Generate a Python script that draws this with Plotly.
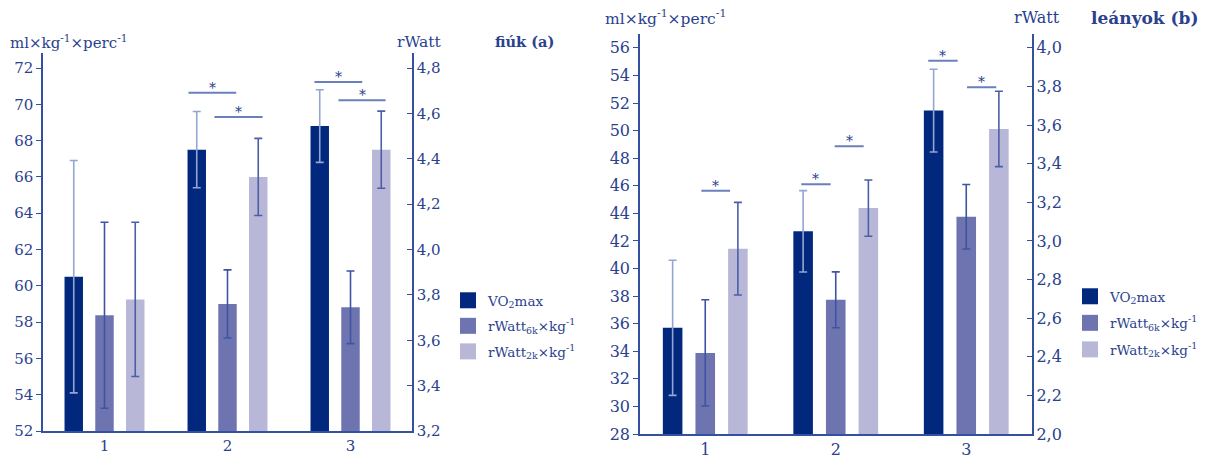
import plotly.graph_objects as go

categories = ["1", "2", "3"]

# fiúk (a)
vo2_boys = [60.5, 67.5, 68.8]
vo2_boys_sd = [6.4, 2.1, 2.0]
rw6k_boys = [3.71, 3.76, 3.745]
rw6k_boys_sd = [0.41, 0.15, 0.16]
rw2k_boys = [3.78, 4.32, 4.44]
rw2k_boys_sd = [0.34, 0.17, 0.17]

# leányok (b)
vo2_girls = [35.7, 42.7, 51.45]
vo2_girls_sd = [4.9, 2.95, 3.0]
rw6k_girls = [2.42, 2.695, 3.125]
rw6k_girls_sd = [0.275, 0.145, 0.167]
rw2k_girls = [2.96, 3.17, 3.58]
rw2k_girls_sd = [0.24, 0.146, 0.195]

# significance brackets: (group index, start offset, end offset, level on left axis)
sig_boys = [(1, -0.317, 0.071, 70.64), (1, -0.106, 0.285, 69.3),
            (2, -0.293, 0.095, 71.23), (2, -0.098, 0.285, 70.22)]
sig_girls = [(0, -0.03, 0.19, 45.64), (1, -0.264, -0.039, 46.11), (1, -0.008, 0.214, 48.86),
             (2, -0.291, -0.066, 55.07), (2, 0.006, 0.23, 53.14)]

left_ticks_boys = list(range(52, 73, 2))
right_ticks_boys = [3.2, 3.4, 3.6, 3.8, 4.0, 4.2, 4.4, 4.6, 4.8]
left_ticks_girls = list(range(28, 57, 2))
right_ticks_girls = [2.0, 2.2, 2.4, 2.6, 2.8, 3.0, 3.2, 3.4, 3.6, 3.8, 4.0]

C_DARK = "#02287d"
C_MID = "#6e74b0"
C_LIGHT = "#b8b7d8"
C_TEXT = "#2a418e"
C_AXIS = "#3450a0"
C_SIG = "#6a80bb"
FONT = "DejaVu Serif"

W, H = 1208, 458
xpos = list(range(len(categories)))

names = ["VO<sub>2</sub>max", "rWatt<sub>6k</sub>×kg<sup>-1</sup>", "rWatt<sub>2k</sub>×kg<sup>-1</sup>"]
colors = [C_DARK, C_MID, C_LIGHT]
err_colors = ["#93a5d3", "#3e54a0", "#4a5fa8"]
offsets = [-0.325, -0.075, 0.175]
BW = 0.15

fig = go.Figure()


def add_chart(series, sds, xa, ya_left, ya_right, legend, tag):
    for i, (vals, sd) in enumerate(zip(series, sds)):
        fig.add_trace(go.Bar(
            x=xpos, y=vals, name=names[i], marker_color=colors[i], marker_line_width=0,
            width=BW, offset=offsets[i], showlegend=False,
            error_y=dict(type="data", array=sd, color=err_colors[i], thickness=1.6, width=4),
            xaxis=xa, yaxis=ya_left if i == 0 else ya_right,
        ))
    # legend entries with larger square swatches
    for i in range(3):
        fig.add_trace(go.Scatter(
            x=[None], y=[None], mode="markers", name=names[i],
            marker=dict(symbol="square", size=16, color=colors[i]),
            xaxis=xa, yaxis=ya_left, legend=legend, showlegend=True,
            legendgroup=f"{tag}{i}",
        ))


add_chart([vo2_boys, rw6k_boys, rw2k_boys], [vo2_boys_sd, rw6k_boys_sd, rw2k_boys_sd],
          "x", "y", "y2", "legend", "b")
add_chart([vo2_girls, rw6k_girls, rw2k_girls], [vo2_girls_sd, rw6k_girls_sd, rw2k_girls_sd],
          "x2", "y3", "y4", "legend2", "g")

annotations = []


def add_sig(sigs, xa, ya, size):
    for g, a, b, lvl in sigs:
        fig.add_trace(go.Scatter(x=[g + a, g + b], y=[lvl, lvl], mode="lines",
                                 line=dict(color=C_SIG, width=2), showlegend=False,
                                 hoverinfo="skip", xaxis=xa, yaxis=ya))
        annotations.append(dict(x=g + (a + b) / 2, y=lvl, xref=xa, yref=ya, text="*",
                                showarrow=False, yanchor="bottom", yshift=-5,
                                font=dict(family=FONT, size=size, color=C_TEXT)))


add_sig(sig_boys, "x", "y", 14)
add_sig(sig_girls, "x2", "y3", 14)


def px_x(p):
    return p / W


def px_y(p):
    return (H - p) / H


# pixel layout
b_left, b_right, b_bottom = 43, 412, 431
b_ppu = 18.15
b_top_val = 72.8
b_top = b_bottom - (b_top_val - 52) * b_ppu
g_left, g_right, g_bottom = 640, 1031.5, 434
g_ppu = 13.79
g_top_val = 57.0
g_top = g_bottom - (g_top_val - 28) * g_ppu

tickfont_b = dict(family=FONT, size=15, color=C_TEXT)
tickfont_g = dict(family=FONT, size=16, color=C_TEXT)


def ystyle(tf):
    return dict(showgrid=False, zeroline=False, showline=True, linecolor=C_AXIS, linewidth=1.5,
                ticklen=5, tickcolor=C_AXIS, tickwidth=1.2, tickfont=tf)


def xstyle(tf):
    return dict(showgrid=False, zeroline=False, showline=True, linecolor=C_AXIS, linewidth=1.8,
                ticks="", tickfont=tf, range=[-0.5, 2.5], tickvals=xpos, ticktext=categories)


def comma(v):
    return f"{v:.1f}".replace(".", ",")


legend_font = dict(family=FONT, size=13.5, color=C_TEXT)

fig.update_layout(
    width=W, height=H, margin=dict(l=0, r=0, t=0, b=0, autoexpand=False),
    paper_bgcolor="white", plot_bgcolor="white",
    barmode="overlay", showlegend=True, hovermode=False,
    xaxis=dict(domain=[px_x(b_left), px_x(b_right)], anchor="y", **xstyle(tickfont_b)),
    yaxis=dict(domain=[px_y(b_bottom), px_y(b_top)], anchor="x", range=[52, b_top_val],
               tickvals=left_ticks_boys, ticks="outside", **ystyle(tickfont_b)),
    yaxis2=dict(overlaying="y", side="right", anchor="x",
                range=[3.2, 3.2 + (b_top_val - 52) * 0.08],
                tickvals=right_ticks_boys, ticktext=[comma(v) for v in right_ticks_boys],
                ticks="inside", **ystyle(tickfont_b)),
    xaxis2=dict(domain=[px_x(g_left), px_x(g_right)], anchor="y3", **xstyle(tickfont_g)),
    yaxis3=dict(domain=[px_y(g_bottom), px_y(g_top)], anchor="x2", range=[28, g_top_val],
                tickvals=left_ticks_girls, ticks="outside", **ystyle(tickfont_g)),
    yaxis4=dict(overlaying="y3", side="right", anchor="x2",
                range=[2.0, 2.0 + (g_top_val - 28) / 14.0],
                tickvals=right_ticks_girls, ticktext=[comma(v) for v in right_ticks_girls],
                ticks="inside", **ystyle(tickfont_g)),
    legend=dict(x=px_x(448), y=px_y(285), xanchor="left", yanchor="top",
                font=legend_font, bgcolor="rgba(0,0,0,0)",
                tracegroupgap=5, itemclick=False, itemwidth=30),
    legend2=dict(x=px_x(1070), y=px_y(281), xanchor="left", yanchor="top",
                 font=legend_font, bgcolor="rgba(0,0,0,0)",
                 tracegroupgap=6, itemclick=False, itemwidth=30),
)

annotations += [
    dict(x=px_x(8), y=px_y(42), xref="paper", yref="paper", xanchor="left", yanchor="middle",
         text="ml×kg<sup>-1</sup>×perc<sup>-1</sup>", showarrow=False,
         font=dict(family=FONT, size=15, color=C_TEXT)),
    dict(x=px_x(395), y=px_y(42), xref="paper", yref="paper", xanchor="left", yanchor="middle",
         text="rWatt", showarrow=False, font=dict(family=FONT, size=15.5, color=C_TEXT)),
    dict(x=px_x(493), y=px_y(42), xref="paper", yref="paper", xanchor="left", yanchor="middle",
         text="<b>fiúk (a)</b>", showarrow=False, font=dict(family=FONT, size=14.5, color=C_TEXT)),
    dict(x=px_x(603), y=px_y(18), xref="paper", yref="paper", xanchor="left", yanchor="middle",
         text="ml×kg<sup>-1</sup>×perc<sup>-1</sup>", showarrow=False,
         font=dict(family=FONT, size=15.5, color=C_TEXT)),
    dict(x=px_x(1012), y=px_y(18), xref="paper", yref="paper", xanchor="left", yanchor="middle",
         text="rWatt", showarrow=False, font=dict(family=FONT, size=16, color=C_TEXT)),
    dict(x=px_x(1089), y=px_y(18), xref="paper", yref="paper", xanchor="left", yanchor="middle",
         text="<b>leányok (b)</b>", showarrow=False, font=dict(family=FONT, size=17, color=C_TEXT)),
]
fig.update_layout(annotations=annotations)

fig.write_html("out.html", config={"displayModeBar": False},
               post_script="document.body.style.margin='0';document.body.style.padding='0';")
